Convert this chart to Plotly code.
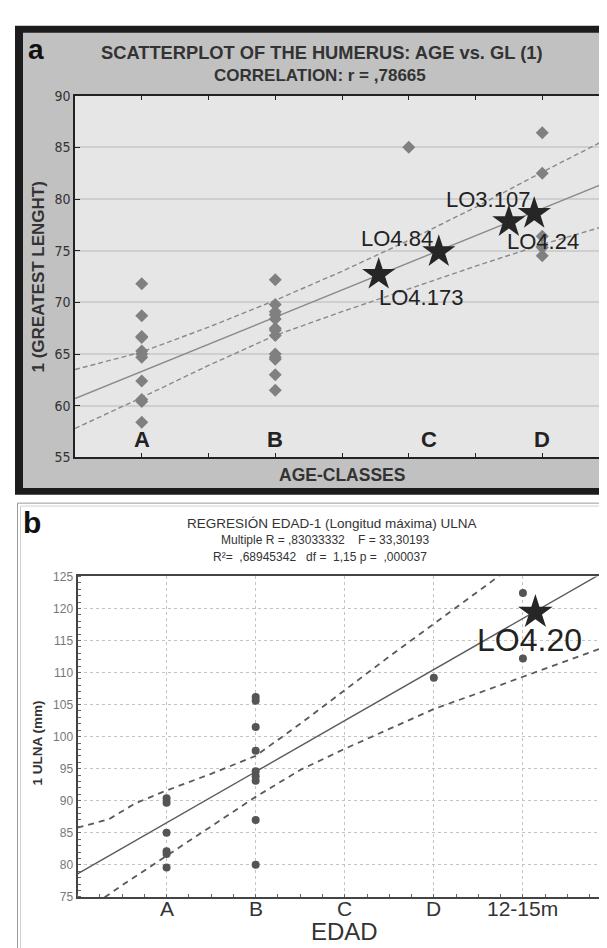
import plotly.graph_objects as go

W, H = 607, 948

# ---------------- Panel a data (humerus) ----------------
a_group_x = [1, 3, 5, 7]
a_group_vals = [
    [71.8, 68.7, 66.7, 66.6, 65.3, 65.0, 64.7, 62.4, 60.6, 60.4, 58.4],
    [72.2, 69.8, 69.1, 68.8, 68.4, 67.5, 67.3, 66.8, 65.0, 64.7, 64.5, 63.0, 61.5],
    [85.0],
    [86.4, 82.5, 76.4, 75.3, 74.5],
]
a_class_labels = ["A", "B", "C", "D"]
a_class_label_x = [1, 3, 5.3, 7]
a_star_x = [4.55, 5.45, 6.50, 6.88]
a_star_y = [72.7, 74.9, 77.8, 78.6]
a_star_labels = ["LO4.173", "LO4.84", "LO3.107", "LO4.24"]
a_star_label_x = [5.19, 4.82, 6.19, 7.01]
a_star_label_y = [70.5, 76.2, 80.0, 75.9]
a_fit_x = [0, 8]
a_fit_y = [60.7, 81.7]
a_band_x = [0, 1, 2, 3, 4, 5, 6, 7, 8]
a_upper = [63.5, 65.2, 67.6, 70.2, 73.0, 76.0, 79.2, 82.6, 85.9]
a_lower = [57.8, 60.8, 63.9, 66.8, 69.1, 71.3, 73.5, 75.6, 77.5]
a_yticks = [55, 60, 65, 70, 75, 80, 85, 90]

# ---------------- Panel b data (ulna) ----------------
b_cat_x = [1, 2, 3, 4, 5]
b_cat_labels = ["A", "B", "C", "D", "12-15m"]
b_group_vals = [
    [90.4, 89.7, 85.0, 82.1, 81.7, 79.6],
    [106.2, 105.6, 101.5, 97.8, 94.6, 93.8, 93.1, 87.0, 80.0],
    [],
    [109.2],
    [122.4, 112.2],
]
b_star_x = [5.14]
b_star_y = [119.4]
b_star_labels = ["LO4.20"]
b_star_label_x = [5.07]
b_star_label_y = [115.0]
b_fit_x = [0, 6]
b_fit_y = [78.6, 126.4]
b_upper_x = [0, 0.35, 0.65, 1, 1.5, 2, 2.5, 3, 3.5, 4, 4.5, 5]
b_upper = [85.8, 87.1, 89.6, 91.6, 94.2, 97.0, 102.0, 107.3, 112.5, 117.6, 122.7, 127.8]
b_lower_x = [0, 0.5, 1, 1.5, 2, 2.5, 3, 3.5, 4, 4.5, 5, 5.5, 6]
b_lower = [72.0, 76.8, 81.4, 86.0, 90.6, 94.8, 98.1, 101.2, 104.3, 106.8, 109.3, 111.8, 114.4]
b_yticks = [75, 80, 85, 90, 95, 100, 105, 110, 115, 120, 125]

# ---------------- helpers ----------------
def px(x):
    return x / W

def py(y):
    return 1 - y / H

ARIAL = "Liberation Sans, Arial, Helvetica, sans-serif"
NARROW = "Liberation Sans Narrow, DejaVu Sans Condensed, Arial Narrow, Liberation Sans, sans-serif"

fig = go.Figure()

# ---- panel a traces ----
a_line = "#8a8a8a"
fig.add_trace(go.Scatter(x=a_band_x, y=a_upper, mode="lines", xaxis="x", yaxis="y",
                         line=dict(color=a_line, width=1.4, dash="5px,3px"), showlegend=False))
fig.add_trace(go.Scatter(x=a_band_x, y=a_lower, mode="lines", xaxis="x", yaxis="y",
                         line=dict(color=a_line, width=1.4, dash="5px,3px"), showlegend=False))
fig.add_trace(go.Scatter(x=a_fit_x, y=a_fit_y, mode="lines", xaxis="x", yaxis="y",
                         line=dict(color=a_line, width=1.4), showlegend=False))
ax_pts = [gx for gx, vals in zip(a_group_x, a_group_vals) for v in vals]
ay_pts = [v for gx, vals in zip(a_group_x, a_group_vals) for v in vals]
fig.add_trace(go.Scatter(x=ax_pts, y=ay_pts, mode="markers", xaxis="x", yaxis="y",
                         marker=dict(symbol="diamond", size=10, color="#808080"), showlegend=False))
fig.add_trace(go.Scatter(x=a_star_x, y=a_star_y, mode="markers", xaxis="x", yaxis="y",
                         marker=dict(symbol="star", size=25, color="#262626"), showlegend=False))

# ---- panel b traces ----
b_line = "#5a5a5a"
fig.add_trace(go.Scatter(x=b_upper_x, y=b_upper, mode="lines", xaxis="x2", yaxis="y2",
                         line=dict(color=b_line, width=1.8, dash="6px,5px"), showlegend=False))
fig.add_trace(go.Scatter(x=b_lower_x, y=b_lower, mode="lines", xaxis="x2", yaxis="y2",
                         line=dict(color=b_line, width=1.8, dash="6px,5px"), showlegend=False))
fig.add_trace(go.Scatter(x=b_fit_x, y=b_fit_y, mode="lines", xaxis="x2", yaxis="y2",
                         line=dict(color=b_line, width=1.4), showlegend=False))
bx_pts = [gx for gx, vals in zip(b_cat_x, b_group_vals) for v in vals]
by_pts = [v for gx, vals in zip(b_cat_x, b_group_vals) for v in vals]
fig.add_trace(go.Scatter(x=bx_pts, y=by_pts, mode="markers", xaxis="x2", yaxis="y2",
                         marker=dict(symbol="circle", size=8, color="#555555"), showlegend=False))
fig.add_trace(go.Scatter(x=b_star_x, y=b_star_y, mode="markers", xaxis="x2", yaxis="y2",
                         marker=dict(symbol="star", size=26, color="#262626"), showlegend=False))

# ---- background shapes ----
shapes = [
    dict(type="rect", xref="paper", yref="paper", x0=px(7), x1=px(620), y0=py(487), y1=py(10),
         fillcolor="#1c1c1c", line=dict(width=0), layer="below"),
    dict(type="rect", xref="paper", yref="paper", x0=px(15), x1=px(620), y0=py(480), y1=py(17),
         fillcolor="#c1c1c1", line=dict(width=0), layer="below"),
    dict(type="rect", xref="x domain", yref="y domain", x0=0, x1=1, y0=0, y1=1,
         fillcolor="#e6e6e6", line=dict(width=0), layer="below"),
    dict(type="rect", xref="paper", yref="paper", x0=px(9.5), x1=px(640), y0=py(1000), y1=py(495.5),
         fillcolor="white", line=dict(color="#9a9a9a", width=1), layer="below"),
    dict(type="rect", xref="paper", yref="paper", x0=px(12.5), x1=px(640), y0=py(1000), y1=py(498.5),
         fillcolor="rgba(0,0,0,0)", line=dict(color="#d0d0d0", width=1), layer="below"),
]

annotations = []

def ann(text, x, y, size, family=ARIAL, color="#333333", xref="paper", yref="paper",
        textangle=0, xanchor="center", yanchor="middle"):
    annotations.append(dict(text=text, x=x, y=y, xref=xref, yref=yref, showarrow=False,
                            font=dict(size=size, family=family, color=color),
                            textangle=textangle, xanchor=xanchor, yanchor=yanchor))

# panel a texts
ann("<b>a</b>", px(28), py(34), 28, color="#111111")
ann("<b>SCATTERPLOT OF THE HUMERUS: AGE vs. GL (1)</b>", px(313), py(37), 18.3)
ann("<b>CORRELATION: r = ,78665</b>", px(312), py(61), 17)
ann("<b>AGE-CLASSES</b>", px(334), py(467), 17.5)
ann("<b>1 (GREATEST LENGHT)</b>", px(31), py(266), 17, textangle=-90)
for lab, lx in zip(a_class_labels, a_class_label_x):
    ann("<b>" + lab + "</b>", lx, 56.75, 22, xref="x", yref="y", color="#222222")
for lab, lx, ly in zip(a_star_labels, a_star_label_x, a_star_label_y):
    ann(lab, lx, ly, 22, xref="x", yref="y", color="#222222")

# panel b texts
ann("<b>b</b>", px(24), py(515), 30, color="#111111")
ann("REGRESIÓN EDAD-1 (Longitud máxima) ULNA", px(324), py(516), 13.5)
ann("Multiple R = ,83033332&nbsp;&nbsp;&nbsp;&nbsp;F = 33,30193", px(317), py(533), 12)
ann("R²=&nbsp; ,68945342&nbsp;&nbsp; df =&nbsp; 1,15 p =&nbsp; ,000037", px(312), py(550), 12)
for lab, lx in zip(b_cat_labels, b_cat_x):
    ann(lab, lx, py(908), 21, xref="x2", yref="paper", color="#333333")
ann("EDAD", px(336), py(947), 24, yanchor="bottom")
ann("<b>1 ULNA (mm)</b>", px(30), py(740), 13.5, textangle=-90)
for lab, lx, ly in zip(b_star_labels, b_star_label_x, b_star_label_y):
    ann(lab, lx, ly, 32, xref="x2", yref="y2", color="#222222")

fig.update_layout(
    width=W, height=H,
    margin=dict(l=0, r=0, t=0, b=0),
    paper_bgcolor="white",
    plot_bgcolor="rgba(0,0,0,0)",
    showlegend=False,
    shapes=shapes,
    annotations=annotations,
    xaxis=dict(domain=[px(67), px(601)], range=[0, 8], anchor="y",
               tickvals=[1, 2, 3, 4, 5, 6, 7], showticklabels=False,
               ticks="inside", ticklen=5, tickcolor="#222222",
               showline=True, linecolor="#222222", linewidth=1.5, mirror="ticks",
               showgrid=False, zeroline=False),
    yaxis=dict(domain=[py(449), py(81)], range=[55, 90], anchor="x",
               tickvals=a_yticks, ticks="inside", ticklen=5, tickcolor="#222222",
               tickfont=dict(family=NARROW, size=14, color="#333333"),
               showline=True, linecolor="#222222", linewidth=1.5, mirror="ticks",
               showgrid=True, gridcolor="#cfcfcf", gridwidth=1.5, zeroline=False),
    xaxis2=dict(domain=[px(69.5), px(604)], range=[0, 6], anchor="y2",
                tickvals=b_cat_x, showticklabels=False,
                ticks="", showline=True, linecolor="#444444", linewidth=2, mirror=True,
                showgrid=True, gridcolor="#c4c4c4", griddash="dot", gridwidth=1,
                zeroline=False,
                minor=dict(dtick=0.25, ticks="inside", ticklen=3, tickcolor="#666666",
                           showgrid=False)),
    yaxis2=dict(domain=[py(896), py(570)], range=[75, 125], anchor="x2",
                tickvals=b_yticks,
                tickfont=dict(family=ARIAL, size=12, color="#777777"),
                ticks="", showline=True, linecolor="#444444", linewidth=2, mirror=True,
                showgrid=True, gridcolor="#c4c4c4", griddash="dot", gridwidth=1,
                zeroline=False,
                minor=dict(dtick=1, ticks="inside", ticklen=3, tickcolor="#666666",
                           showgrid=False)),
)

fig.write_html("out.html")
